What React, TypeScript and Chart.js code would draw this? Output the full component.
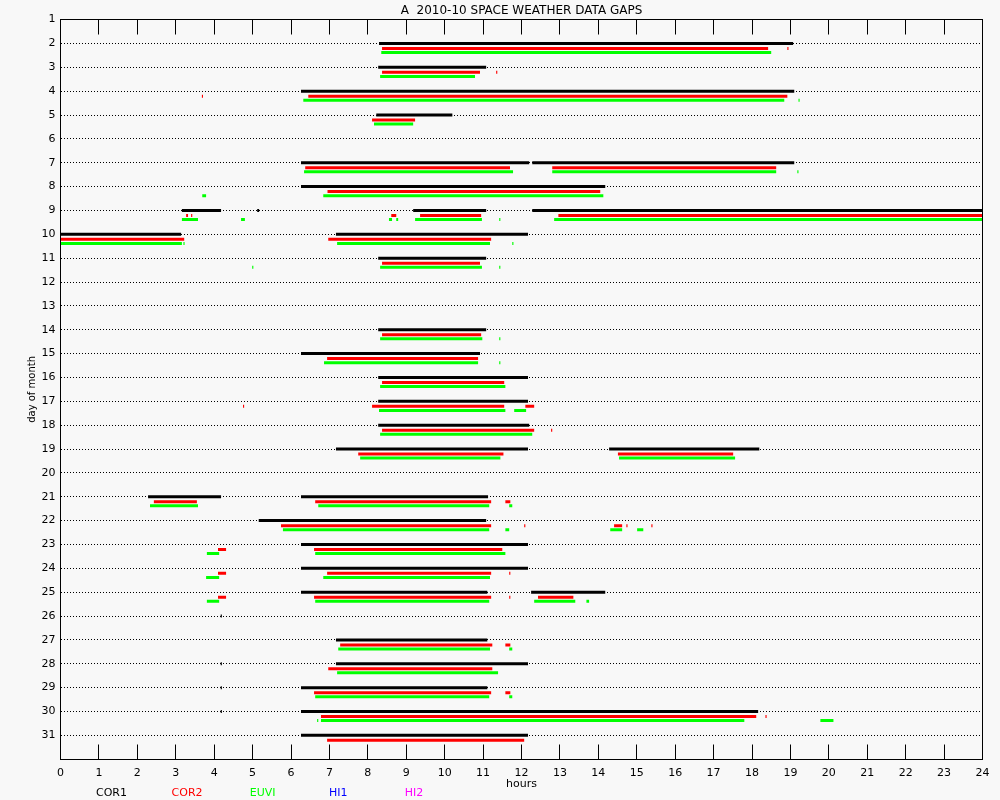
import React, { useEffect, useRef } from "react";
import { Chart, registerables } from "chart.js";

Chart.register(...registerables);

const TITLE = "A  2010-10 SPACE WEATHER DATA GAPS";
const INSTRUMENTS = ["COR1", "COR2", "EUVI", "HI1", "HI2"];
const COLORS = ["#000000", "#ff0000", "#00ff00", "#0000ff", "#ff00ff"];

// [day of month, gap start hour, gap end hour]
const COR1_GAPS: [number, number, number][] = [
  [2, 8.29, 19.07],
  [3, 8.27, 11.08],
  [4, 6.26, 19.1],
  [5, 8.22, 10.2],
  [7, 6.26, 12.2], [7, 12.28, 19.1],
  [8, 6.26, 14.18],
  [9, 3.16, 4.18], [9, 5.12, 5.17], [9, 9.18, 11.08], [9, 12.28, 24],
  [10, 0, 3.14], [10, 7.17, 12.17],
  [11, 8.27, 11.08],
  [14, 8.27, 11.08],
  [15, 6.26, 10.92],
  [16, 8.27, 12.17],
  [17, 8.27, 12.17],
  [18, 8.27, 12.2],
  [19, 7.17, 12.17], [19, 14.28, 18.19],
  [21, 2.28, 4.18], [21, 6.26, 11.13],
  [22, 5.16, 11.08],
  [23, 6.26, 12.17],
  [24, 6.26, 12.17],
  [25, 6.26, 11.11], [25, 12.25, 14.18],
  [26, 4.17, 4.2],
  [27, 7.17, 11.11],
  [28, 4.17, 4.2], [28, 7.17, 12.17],
  [29, 4.17, 4.2], [29, 6.26, 11.11],
  [30, 4.17, 4.2], [30, 6.26, 18.16],
  [31, 6.26, 12.17],
];

const COR2_GAPS: [number, number, number][] = [
  [2, 8.37, 18.42], [2, 18.92, 18.95],
  [3, 8.37, 10.92], [3, 11.34, 11.37],
  [4, 3.68, 3.71], [4, 6.45, 18.92],
  [5, 8.11, 9.23],
  [7, 6.37, 11.7], [7, 12.8, 18.63],
  [8, 6.95, 14.05],
  [9, 3.27, 3.32], [9, 3.4, 3.43], [9, 8.61, 8.74], [9, 9.36, 10.95], [9, 12.96, 24],
  [10, 0, 3.22], [10, 6.97, 11.21],
  [11, 8.37, 10.92],
  [14, 8.37, 10.95],
  [15, 6.94, 10.87],
  [16, 8.37, 11.55],
  [17, 4.75, 4.78], [17, 8.11, 11.55], [17, 12.1, 12.33],
  [18, 8.37, 12.33], [18, 12.77, 12.8],
  [19, 7.75, 11.53], [19, 14.51, 17.51],
  [21, 2.43, 3.55], [21, 6.63, 11.21], [21, 11.58, 11.71],
  [22, 5.74, 11.21], [22, 12.07, 12.1], [22, 14.41, 14.62], [22, 14.73, 14.76], [22, 15.38, 15.41],
  [23, 4.1, 4.31], [23, 6.6, 11.5],
  [24, 4.1, 4.31], [24, 6.94, 11.21], [24, 11.68, 11.71],
  [25, 4.1, 4.31], [25, 6.6, 11.21], [25, 11.68, 11.71], [25, 12.43, 13.35],
  [27, 7.28, 11.24], [27, 11.58, 11.71],
  [28, 6.97, 11.24],
  [29, 6.6, 11.21], [29, 11.58, 11.71],
  [30, 6.78, 18.11], [30, 18.35, 18.38],
  [31, 6.94, 12.07],
];

const EUVI_GAPS: [number, number, number][] = [
  [2, 8.35, 18.5],
  [3, 8.32, 10.79],
  [4, 6.32, 18.84], [4, 19.21, 19.24],
  [5, 8.16, 9.18],
  [7, 6.34, 11.78], [7, 12.8, 18.63], [7, 19.18, 19.21],
  [8, 3.69, 3.79], [8, 6.84, 14.13],
  [9, 3.16, 3.58], [9, 4.7, 4.8], [9, 8.55, 8.63], [9, 8.74, 8.79], [9, 9.23, 10.97], [9, 11.42, 11.45], [9, 12.85, 24],
  [10, 0, 3.16], [10, 3.2, 3.23], [10, 7.2, 11.18], [10, 11.76, 11.79],
  [11, 4.99, 5.02], [11, 8.32, 10.97], [11, 11.42, 11.45],
  [14, 8.32, 10.98], [14, 11.42, 11.45],
  [15, 6.86, 10.87], [15, 11.42, 11.45],
  [16, 8.32, 11.58],
  [17, 8.29, 11.58], [17, 11.81, 12.12],
  [18, 8.32, 12.28],
  [19, 7.8, 11.45], [19, 14.54, 17.56],
  [21, 2.33, 3.58], [21, 6.71, 11.16], [21, 11.68, 11.76],
  [22, 5.79, 11.16], [22, 11.58, 11.68], [22, 14.31, 14.62], [22, 15.01, 15.17],
  [23, 3.81, 4.13], [23, 6.63, 11.58],
  [24, 3.79, 4.13], [24, 6.84, 11.18],
  [25, 3.81, 4.13], [25, 6.63, 11.16], [25, 12.33, 13.4], [25, 13.69, 13.76],
  [27, 7.23, 11.18], [27, 11.68, 11.76],
  [28, 7.2, 11.39],
  [29, 6.63, 11.16], [29, 11.68, 11.76],
  [30, 6.68, 6.71], [30, 6.78, 17.8], [30, 19.78, 20.12],
];

const HI1_GAPS: [number, number, number][] = [];
const HI2_GAPS: [number, number, number][] = [];

const ALL_GAPS = [COR1_GAPS, COR2_GAPS, EUVI_GAPS, HI1_GAPS, HI2_GAPS];
// vertical offset of each instrument row below the day line (in days)
const ROW_OFFSETS = [0, 0.21, 0.38, 0.5, 0.6];

const FONT = "'DejaVu Sans', sans-serif";

function toPoints(gaps: [number, number, number][], off: number) {
  const pts: { x: number; y: number | null }[] = [];
  for (const [d, s, e] of gaps) {
    pts.push({ x: s, y: d + off }, { x: e, y: d + off }, { x: e, y: null });
  }
  return pts;
}

const decorPlugin = {
  id: "decor",
  beforeDraw(chart: any) {
    const { ctx, width, height } = chart;
    ctx.save();
    ctx.fillStyle = "#f8f8f8";
    ctx.fillRect(0, 0, width, height);
    ctx.restore();
  },
  afterDraw(chart: any) {
    const { ctx, chartArea: a } = chart;
    const xs = chart.scales.x;
    ctx.save();
    ctx.strokeStyle = "#000";
    ctx.lineWidth = 1;
    const L = Math.floor(a.left) + 0.5;
    const T = Math.floor(a.top) + 0.5;
    const R = Math.floor(a.right) + 0.5;
    const B = Math.floor(a.bottom) + 0.5;
    ctx.strokeRect(L, T, R - L, B - T);
    ctx.beginPath();
    for (let h = 1; h < 24; h++) {
      const px = Math.round(xs.getPixelForValue(h) - 0.5) + 0.5;
      ctx.moveTo(px, T);
      ctx.lineTo(px, T + 15);
      ctx.moveTo(px, B);
      ctx.lineTo(px, B - 15);
    }
    ctx.stroke();
    ctx.fillStyle = "#000";
    ctx.font = "12px " + FONT;
    ctx.textAlign = "center";
    ctx.textBaseline = "alphabetic";
    ctx.fillText(TITLE, (a.left + a.right) / 2, 14);
    ctx.font = "11px " + FONT;
    INSTRUMENTS.forEach((name, i) => {
      ctx.fillStyle = COLORS[i];
      ctx.fillText(name, 111.5 + i * 75.6, 796);
    });
    ctx.restore();
  },
};

export default function App() {
  const ref = useRef<HTMLCanvasElement | null>(null);
  useEffect(() => {
    if (!ref.current) return;
    const datasets = INSTRUMENTS.map((name, i) => ({
      label: name,
      data: toPoints(ALL_GAPS[i], ROW_OFFSETS[i]),
      borderColor: COLORS[i],
      backgroundColor: COLORS[i],
      borderWidth: 3,
      borderCapStyle: "butt",
      showLine: true,
      pointRadius: 0,
      pointHoverRadius: 0,
      spanGaps: false,
    }));
    const chart = new Chart(ref.current, {
      type: "scatter",
      data: { datasets } as any,
      plugins: [decorPlugin],
      options: {
        animation: false,
        responsive: false,
        devicePixelRatio: 1,
        events: [],
        layout: { padding: { top: 19.6, right: 17.5, left: 0, bottom: 0 } },
        plugins: {
          legend: { display: false },
          tooltip: { enabled: false },
          title: { display: false },
        },
        scales: {
          x: {
            type: "linear",
            position: "bottom",
            min: 0,
            max: 24,
            afterFit: (s: any) => {
              s.height = 40.8;
            },
            grid: { display: false, drawTicks: false },
            border: { display: false },
            ticks: {
              stepSize: 1,
              autoSkip: false,
              maxRotation: 0,
              color: "#000",
              padding: 7,
              font: { family: FONT, size: 11 },
            },
            title: {
              display: true,
              text: "hours",
              color: "#000",
              font: { family: FONT, size: 11 },
              padding: { top: 0, bottom: 9 },
            },
          },
          y: {
            type: "linear",
            position: "left",
            reverse: true,
            min: 1,
            max: 32,
            afterFit: (s: any) => {
              s.width = 60.5;
            },
            grid: {
              drawTicks: false,
              lineWidth: 1,
              color: (c: any) =>
                c.tick && c.tick.value >= 2 && c.tick.value <= 31 ? "#000" : "rgba(0,0,0,0)",
            },
            border: { display: false, dash: [1, 2] },
            ticks: {
              stepSize: 1,
              autoSkip: false,
              color: "#000",
              padding: 5,
              font: { family: FONT, size: 11 },
              callback: (v: any) => (v >= 1 && v <= 31 ? String(v) : ""),
            },
            title: {
              display: true,
              text: "day of month",
              color: "#000",
              font: { family: FONT, size: 10 },
              padding: { top: 26, bottom: 0 },
            },
          },
        },
      } as any,
    });
    return () => chart.destroy();
  }, []);
  return (
    <div style={{ position: "absolute", left: 0, top: 0, width: 1000, height: 800 }}>
      <canvas ref={ref} width={1000} height={800} style={{ width: 1000, height: 800, display: "block" }} />
    </div>
  );
}
